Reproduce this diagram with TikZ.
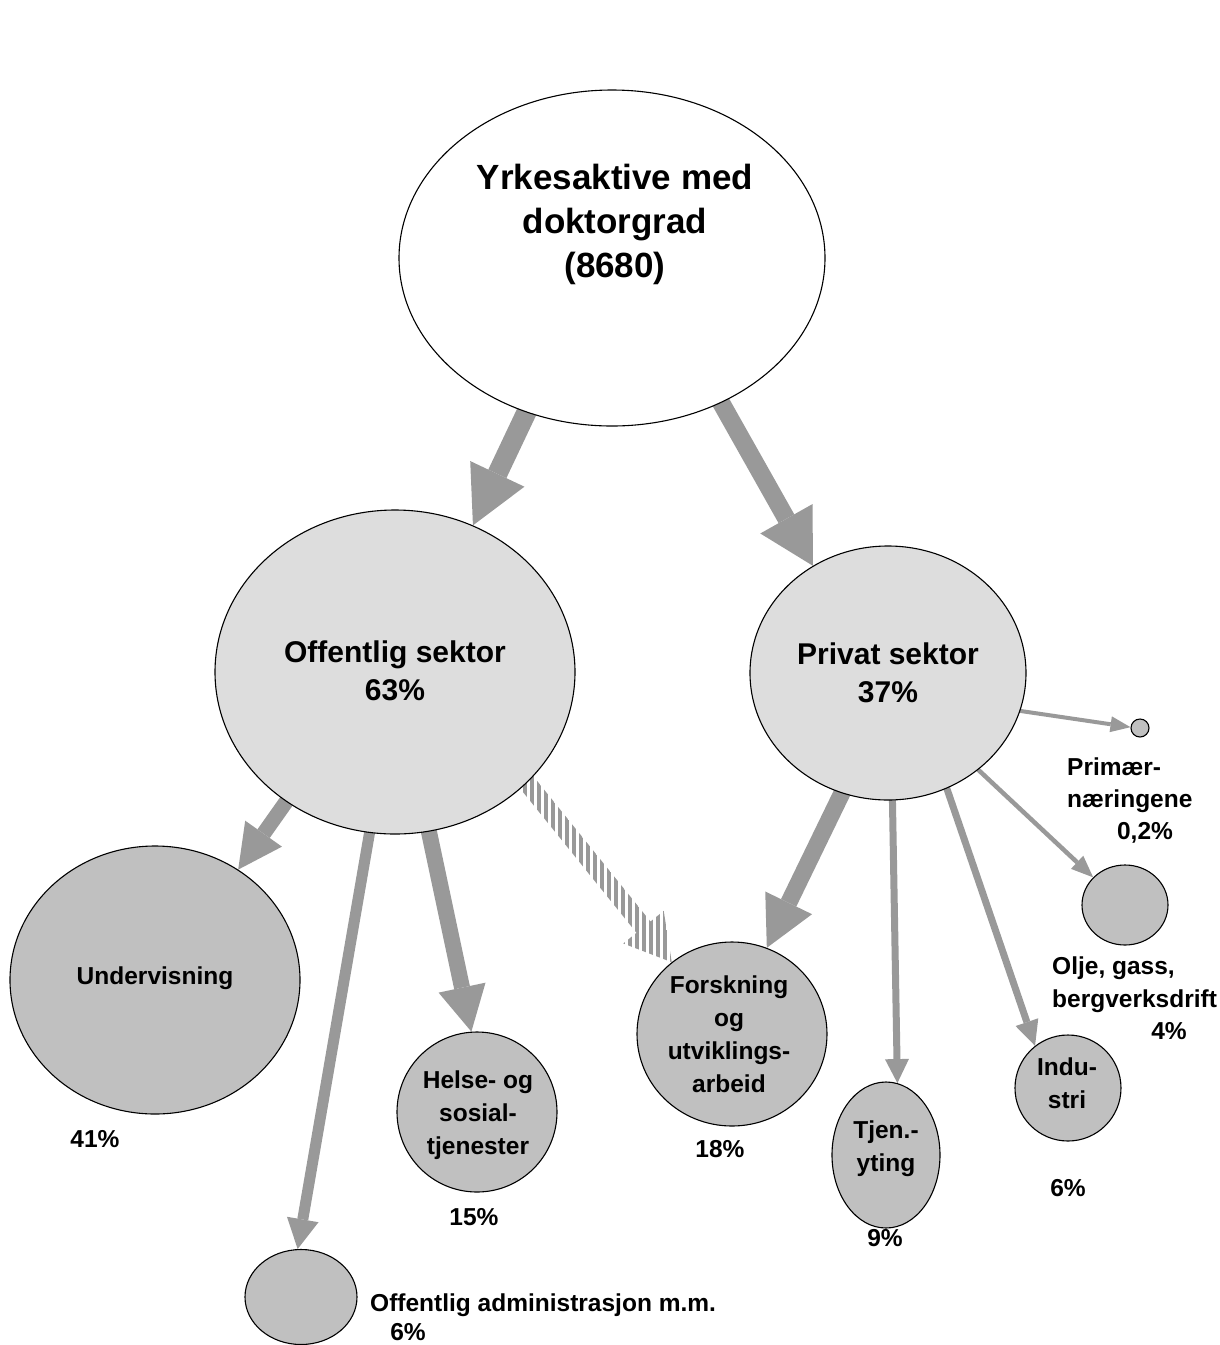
\documentclass[tikz,border=0pt]{standalone}
\usepackage{fontspec}
\setmainfont{Liberation Sans}
\usetikzlibrary{shapes.geometric,arrows.meta,calc,patterns.meta}
\pgfdeclarelayer{background}
\pgfsetlayers{background,main}
\definecolor{arrowgray}{HTML}{999999}
\definecolor{lightfill}{HTML}{DDDDDD}
\definecolor{midfill}{HTML}{C0C0C0}
\begin{document}
\begin{tikzpicture}[x=1pt,y=-1pt,
  blob/.style={ellipse, draw=black, line width=1.1pt, inner sep=0pt},
  lbl/.style={font=\bfseries\fontsize{24.5}{33}\selectfont, align=center, inner sep=0pt},
  biglbl/.style={font=\bfseries\fontsize{30}{38}\selectfont, align=center, inner sep=0pt},
  toplbl/.style={font=\bfseries\fontsize{35}{44}\selectfont, align=center, inner sep=0pt},
  fat/.style n args={3}{draw=arrowgray, line width=#1, shorten <=-10pt,
     -{Triangle[length=#2, width=#3, line width=0pt]}},
]
\useasboundingbox (0,0) rectangle (1220,1345);

% ellipses
\node[blob, fill=white, minimum width=426pt, minimum height=336pt] (top) at (612,258) {};
\node[blob, fill=lightfill, minimum width=360pt, minimum height=324pt] (off) at (395,672) {};
\node[blob, fill=lightfill, minimum width=276pt, minimum height=254pt] (priv) at (888,673) {};
\node[blob, fill=midfill, minimum width=290pt, minimum height=268pt] (und) at (155,980) {};
\node[blob, fill=midfill, minimum width=160pt, minimum height=160pt] (helse) at (477,1112) {};
\node[blob, fill=midfill, minimum width=112pt, minimum height=95pt] (offadm) at (301,1297) {};
\node[blob, fill=midfill, minimum width=190pt, minimum height=184pt] (forsk) at (732,1034) {};
\node[blob, fill=midfill, minimum width=108pt, minimum height=146pt] (tjen) at (886,1155) {};
\node[blob, fill=midfill, minimum width=106pt, minimum height=106pt] (ind) at (1068,1088) {};
\node[blob, fill=midfill, minimum width=86pt, minimum height=80pt] (olje) at (1125,905) {};
\node[blob, fill=midfill, minimum width=18pt, minimum height=18pt] (prim) at (1140,728) {};

% texts
\node[toplbl] (toptext) at (615,224) {Yrkesaktive med\\doktorgrad\\(8680)};
\node[biglbl] (offtext) at (395,671) {Offentlig sektor\\63\%};
\node[biglbl] (privtext) at (888,673) {Privat sektor\\37\%};
\node[lbl] (undtext) at (155,978) {Undervisning};
\node[lbl] (helsetext) at (478,1115) {Helse- og\\sosial-\\tjenester};
\node[lbl] (forsktext) at (729,1034) {Forskning\\og\\utviklings-\\arbeid};
\node[lbl] (tjentext) at (886,1149) {Tjen.-\\yting};
\node[lbl] (indtext) at (1067,1083) {Indu-\\stri};

\node[lbl, anchor=base] (p41) at (95,1147) {41\%};
\node[lbl, anchor=base] (p15) at (474,1225) {15\%};
\node[lbl, anchor=base] (p18) at (720,1157) {18\%};
\node[lbl, anchor=base] (p9) at (885,1246) {9\%};
\node[lbl, anchor=base] (p6i) at (1068,1196) {6\%};
\node[lbl, anchor=base] (p4) at (1169,1039) {4\%};
\node[lbl, anchor=base] (p02) at (1145,839) {0,2\%};
\node[lbl, anchor=base] (p6a) at (408,1340) {6\%};
\node[lbl, anchor=base west, align=left, font=\bfseries\fontsize{24.5}{32}\selectfont] (primtext) at (1067,807) {Primær-\\næringene};
\node[lbl, anchor=base west, align=left] (oljetext) at (1052,1007) {Olje, gass,\\bergverksdrift};
\node[lbl, anchor=base west] (offadmtext) at (370,1311) {Offentlig administrasjon m.m.};

% connectors
\begin{pgfonlayer}{background}
\draw[fat={20pt}{57pt}{60pt}] (top.241) -- (off.62);
\draw[fat={18pt}{54pt}{60pt}] (top.307.6) -- (priv.125.3);
\draw[fat={15pt}{44pt}{45pt}] (off.230.4) -- (und.53.9);
\draw[fat={16pt}{45pt}{48pt}] (off.282.8) -- (helse.94.9);
\draw[fat={17pt}{50pt}{52pt}] (priv.249.4) -- (forsk.68);
\draw[fat={11pt}{30pt}{32pt}] (off.261.1) -- (offadm.94.9);
\draw[fat={7pt}{24pt}{24pt}] (priv.272.3) -- (tjen.81.4);
\draw[fat={7pt}{25pt}{24pt}] (priv.297.7) -- (ind.128.7);
\draw[fat={4.5pt}{22pt}{18pt}] (priv.313.1) -- (olje.139);
\draw[fat={4pt}{20pt}{16pt}] (priv.344.3) -- (prim.175);
% hatched arrow
\coordinate (hB) at (forsk.130.9);
\coordinate (hA) at ($(off.320.3)!-10pt!(hB)$);
\coordinate (hC) at ($(hB)!45pt!(hA)$);
\fill[pattern={Lines[angle=90,distance=7pt,line width=3.5pt]}, pattern color=arrowgray]
  ($(hA)!9pt!90:(hB)$) -- ($(hC)!9pt!90:(hB)$) -- ($(hC)!26pt!90:(hB)$) -- (hB)
  -- ($(hC)!26pt!-90:(hB)$) -- ($(hC)!9pt!-90:(hB)$) -- ($(hA)!9pt!-90:(hB)$) -- cycle;
\end{pgfonlayer}
\end{tikzpicture}
\end{document}
